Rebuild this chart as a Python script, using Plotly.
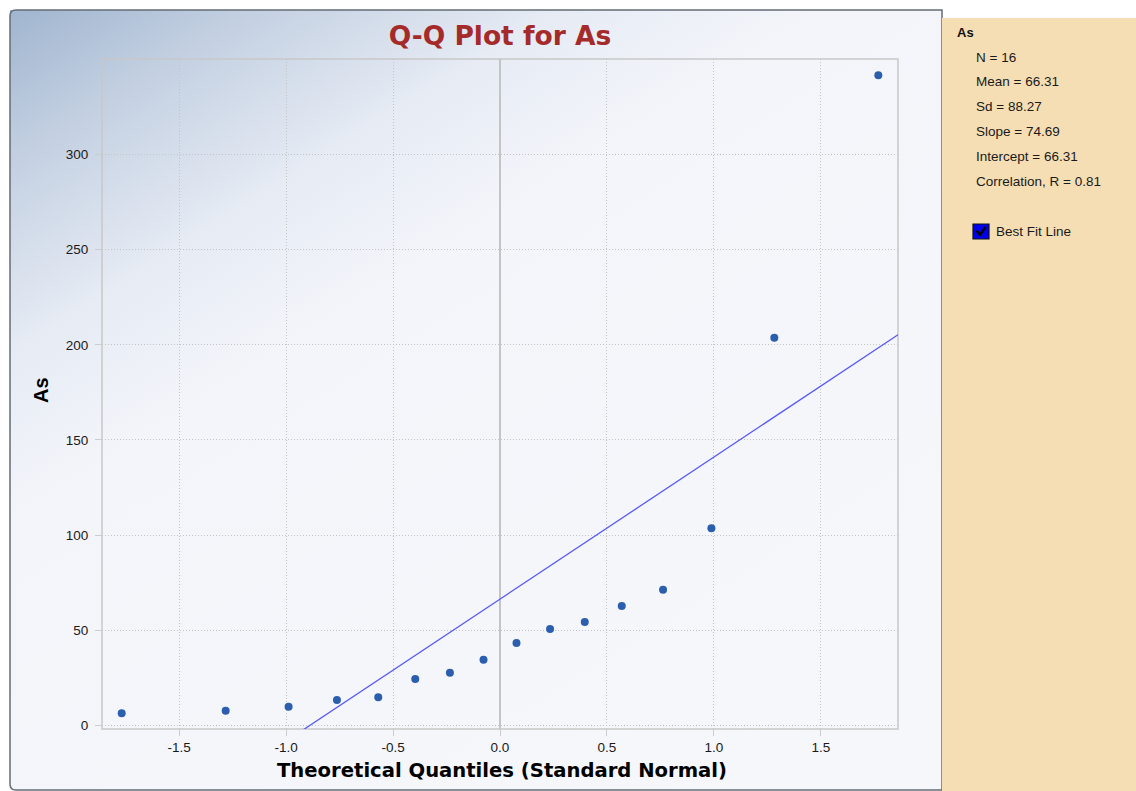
import base64
import numpy as np
import plotly.graph_objects as go

# ---------------- data ----------------
theoretical_q = [-1.768, -1.282, -0.988, -0.762, -0.569, -0.396, -0.234, -0.077,
                 0.077, 0.234, 0.396, 0.569, 0.762, 0.988, 1.282, 1.768]
as_values = [6.3, 7.7, 9.8, 13.3, 14.7, 24.3, 27.6, 34.4,
             43.3, 50.6, 54.3, 62.7, 71.3, 103.5, 203.7, 341.7]
slope = 74.69
intercept = 66.31
stat_labels = ["N = 16", "Mean = 66.31", "Sd = 88.27", "Slope = 74.69",
               "Intercept = 66.31", "Correlation, R = 0.81"]
x_ticks = [-1.5, -1.0, -0.5, 0.0, 0.5, 1.0, 1.5]
x_tick_labels = ["-1.5", "-1.0", "-0.5", "0.0", "0.5", "1.0", "1.5"]
y_ticks = [0, 50, 100, 150, 200, 250, 300]
x_range = [-1.86, 1.86]
y_range = [-1.95, 350.2]

W, H = 1136, 791
PL, PR, PT, PB = 102, 898, 59, 729


def fx(px):
    return (px - PL) / (PR - PL)


def fy(py):
    return (PB - py) / (PB - PT)


line_x = np.array(x_range)
line_y = intercept + slope * line_x

fig = go.Figure()
fig.add_trace(go.Scatter(x=list(line_x), y=list(line_y), mode="lines",
                         line=dict(color="#5a5af5", width=1.3),
                         showlegend=False, hoverinfo="skip", cliponaxis=True))
fig.add_trace(go.Scatter(x=theoretical_q, y=as_values, mode="markers",
                         marker=dict(color="#2b5fae", size=8,
                                     line=dict(width=0)),
                         showlegend=False))

# gradient background as svg
svg = ('<svg xmlns="http://www.w3.org/2000/svg" width="932" height="780" '
       'preserveAspectRatio="none">'
       '<defs><linearGradient id="g" x1="0" y1="0" x2="0.75" y2="1">'
       '<stop offset="0" stop-color="#a0b5cf"/>'
       '<stop offset="0.12" stop-color="#c2cfe1"/>'
       '<stop offset="0.28" stop-color="#e6ebf4"/>'
       '<stop offset="0.42" stop-color="#f3f5fa"/>'
       '<stop offset="1" stop-color="#f6f7fb"/>'
       '</linearGradient></defs>'
       '<rect width="932" height="780" fill="url(#g)"/></svg>')
src = "data:image/svg+xml;base64," + base64.b64encode(svg.encode()).decode()
fig.add_layout_image(dict(source=src, xref="paper", yref="paper",
                          x=fx(10), y=fy(10), sizex=fx(942) - fx(10),
                          sizey=fy(10) - fy(790), xanchor="left",
                          yanchor="top", sizing="stretch", layer="below"))

shapes = []
# frame with rounded corners
x0, y0, x1, y1, r = 10, 10, 942, 790, 6
path = (f"M {fx(x0 + r)},{fy(y0)} L {fx(x1)},{fy(y0)} L {fx(x1)},{fy(y1)} "
        f"L {fx(x0 + r)},{fy(y1)} Q {fx(x0)},{fy(y1)} {fx(x0)},{fy(y1 - r)} "
        f"L {fx(x0)},{fy(y0 + r)} Q {fx(x0)},{fy(y0)} {fx(x0 + r)},{fy(y0)} Z")
shapes.append(dict(type="path", path=path, xref="paper", yref="paper",
                   line=dict(color="#646c76", width=1.5), layer="below"))
# right beige panel
shapes.append(dict(type="rect", xref="paper", yref="paper",
                   x0=fx(942), x1=fx(1137), y0=fy(18), y1=fy(792),
                   fillcolor="#f5deb3", line=dict(width=0), layer="below"))
# plot border
shapes.append(dict(type="rect", xref="paper", yref="paper", x0=0, x1=1,
                   y0=0, y1=1, line=dict(color="#c8c8c8", width=1.5),
                   layer="below"))
# checkbox
shapes.append(dict(type="rect", xref="paper", yref="paper",
                   x0=fx(973), x1=fx(989), y0=fy(239), y1=fy(224),
                   fillcolor="#0000f0", line=dict(color="#111111", width=1.2),
                   layer="above"))
shapes.append(dict(type="path", xref="paper", yref="paper",
                   path=f"M {fx(976.5)},{fy(230.5)} L {fx(980)},{fy(235)} L {fx(985.5)},{fy(227)}",
                   line=dict(color="#000000", width=2.4), layer="above"))
fig.update_layout(shapes=shapes)

annotations = []
annotations.append(dict(text="<b>Theoretical Quantiles (Standard Normal)</b>",
                        xref="paper", yref="paper", x=fx(502), y=fy(770),
                        showarrow=False, xanchor="center", yanchor="middle",
                        font=dict(size=19.6, color="#000000",
                                  family="DejaVu Sans")))
annotations.append(dict(text="<b>As</b>", xref="paper", yref="paper",
                        x=fx(41), y=fy(390), showarrow=False, textangle=-90,
                        xanchor="center", yanchor="middle",
                        font=dict(size=20, color="#000000",
                                  family="Liberation Sans, Arial")))
annotations.append(dict(text="<b>As</b>", xref="paper", yref="paper",
                        x=fx(955), y=fy(33), showarrow=False, xanchor="left",
                        yanchor="middle",
                        font=dict(size=13, color="#111111",
                                  family="Liberation Sans, Arial")))
for i, lab in enumerate(stat_labels):
    annotations.append(dict(text=lab, xref="paper", yref="paper",
                            x=fx(974), y=fy(57 + 25 * i), showarrow=False,
                            xanchor="left", yanchor="middle",
                            font=dict(size=13.5, color="#1a1a1a",
                                      family="Liberation Sans, Arial")))
annotations.append(dict(text="Best Fit Line", xref="paper", yref="paper",
                        x=fx(994), y=fy(231), showarrow=False, xanchor="left",
                        yanchor="middle",
                        font=dict(size=13.5, color="#1a1a1a",
                                  family="Liberation Sans, Arial")))
fig.update_layout(annotations=annotations)

fig.update_layout(
    width=W, height=H,
    margin=dict(l=PL, r=W - PR, t=PT, b=H - PB),
    paper_bgcolor="#ffffff",
    plot_bgcolor="rgba(0,0,0,0)",
    title=dict(text="<b>Q-Q Plot for As</b>", xref="paper", x=0.5,
               yref="container", y=1 - 36 / H, xanchor="center",
               yanchor="middle",
               font=dict(size=26.5, color="#a52a2a", family="DejaVu Sans")),
    font=dict(family="Liberation Sans, Arial", color="#1a1a1a", size=13),
)
fig.update_xaxes(range=x_range, tickvals=x_ticks, ticktext=x_tick_labels,
                 showgrid=True, gridcolor="#c4c4c4", griddash="1px,2px",
                 gridwidth=1, zeroline=True, zerolinecolor="#c4c4c4",
                 zerolinewidth=1.5, ticks="outside", ticklen=6,
                 tickcolor="#cccccc", showline=False,
                 tickfont=dict(size=13.5, color="#1a1a1a"))
fig.update_yaxes(range=y_range, tickvals=y_ticks, showgrid=True,
                 gridcolor="#c4c4c4", griddash="1px,2px", gridwidth=1,
                 zeroline=False, ticks="outside", ticklen=6,
                 tickcolor="#cccccc", showline=False, ticklabelstandoff=4,
                 tickfont=dict(size=13.5, color="#1a1a1a"))

fig.write_html("out.html")
